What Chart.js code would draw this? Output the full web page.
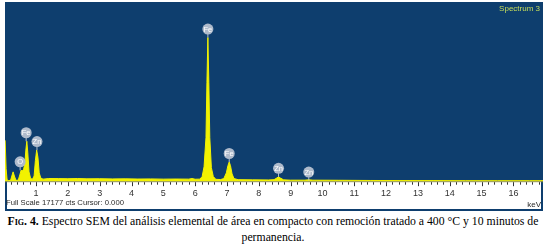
<!DOCTYPE html>
<html>
<head>
<meta charset="utf-8">
<script src="https://cdn.jsdelivr.net/npm/chart.js@4"></script>
<style>
  html, body { margin: 0; padding: 0; background: #fff; }
  body { width: 546px; height: 246px; position: relative; overflow: hidden; }
  #wrap { position: absolute; left: 0; top: 0; width: 546px; height: 213px; }
  #cap { position: absolute; left: 0; top: 214px; width: 546px; text-align: center;
         font-family: "Liberation Serif", "Times New Roman", serif; font-size: 11.75px; line-height: 15.5px; color: #000; white-space: nowrap; }
  #cap .fig { font-weight: bold; font-variant: small-caps; }
</style>
</head>
<body>
<div id="wrap"><canvas id="c" width="546" height="213"></canvas></div>
<div id="cap"><span class="fig">Fig. 4.</span> Espectro SEM del análisis elemental de área en compacto con remoción tratado a 400 °C y 10 minutos de<br>permanencia.</div>
<script>
// ---- data ----
const energies = [0.00, 0.03, 0.06, 0.09, 0.13, 0.20, 0.24, 0.28, 0.32, 0.37, 0.44, 0.49, 0.53, 0.57, 0.61, 0.65, 0.68, 0.71, 0.74, 0.78,
  0.83, 0.89, 0.94, 0.98, 1.02, 1.06, 1.10, 1.15, 1.22, 1.40, 1.70, 2.00, 2.30, 2.60, 3.00, 3.40, 3.80, 4.20, 4.60, 5.00,
  5.40, 5.80, 5.90, 6.00, 6.15, 6.22, 6.28, 6.34, 6.37, 6.40, 6.43, 6.46, 6.51, 6.57, 6.65, 6.80, 6.90, 6.98, 7.03, 7.07,
  7.11, 7.16, 7.22, 7.35, 7.80, 8.30, 8.48, 8.56, 8.62, 8.68, 8.78, 9.00, 9.45, 9.57, 9.70, 10.5, 11.5, 12.5, 13.5, 14.5,
  15.5, 16.5, 16.95];
const counts = [4000, 3900, 1200, 150, 60, 80, 500, 900, 500, 80, 100, 600, 1050, 1000, 1150, 1700, 3000, 3850, 2800, 900,
  250, 200, 500, 2000, 3000, 2300, 800, 300, 200, 260, 250, 240, 260, 230, 240, 220, 230, 210, 220, 200,
  210, 200, 260, 190, 200, 450, 1400, 4200, 9500, 13850, 9500, 4200, 1300, 450, 180, 160, 250, 800, 1500, 1850,
  1500, 700, 250, 150, 130, 120, 150, 300, 420, 300, 130, 100, 100, 140, 100, 90, 70, 60, 60, 50,
  50, 50, 50];
const peakNames = ['O', 'Fe', 'Zn', 'Fe', 'Fe', 'Zn', 'Zn'];
const peakEnergies = [0.50, 0.69, 1.03, 6.40, 7.07, 8.62, 9.57];
const peakCounts = [1050, 3850, 3000, 13850, 1850, 420, 60];
const tickLabels = ['1','2','3','4','5','6','7','8','9','10','11','12','13','14','15','16'];
const fullScale = 17177;
const infoText = 'Full Scale 17177 cts Cursor: 0.000';
const spectrumName = 'Spectrum 3';
const unitText = 'keV';

const BLUE = '#0e3e6e';
const YELLOW = '#f2f200';

const framePlugin = {
  id: 'frame',
  beforeDraw(chart) {
    const { ctx, chartArea: a } = chart;
    ctx.save();
    ctx.fillStyle = '#fff';
    ctx.fillRect(0, 0, chart.width, chart.height);
    ctx.fillStyle = BLUE;
    ctx.fillRect(a.left, a.top, a.right - a.left, a.bottom - a.top);
    ctx.strokeStyle = BLUE;
    ctx.lineWidth = 2;
    ctx.strokeRect(a.left + 1, a.top, a.right - a.left - 2, 209 - a.top + 1);
    ctx.restore();
  },
  afterDatasetsDraw(chart) {
    const { ctx, chartArea: a, scales: { x, y } } = chart;
    ctx.save();
    ctx.strokeStyle = '#9a9a40';
    ctx.lineWidth = 1;
    ctx.beginPath(); ctx.moveTo(a.left, a.bottom + 0.5); ctx.lineTo(a.right, a.bottom + 0.5); ctx.stroke();
    ctx.strokeStyle = '#333';
    for (let i = 1; i <= 84; i++) {
      const v = i / 5;
      const px = Math.round(x.getPixelForValue(v)) + 0.5;
      if (px > a.right - 1) break;
      const len = (i % 5 === 0) ? 4 : 2.5;
      ctx.beginPath(); ctx.moveTo(px, a.bottom + 1); ctx.lineTo(px, a.bottom + 1 + len); ctx.stroke();
    }
    ctx.font = '7.5px Arial, "Liberation Sans", sans-serif';
    ctx.textAlign = 'center';
    ctx.textBaseline = 'middle';
    for (let i = 0; i < peakNames.length; i++) {
      const px = x.getPixelForValue(peakEnergies[i]);
      const py = y.getPixelForValue(peakCounts[i]);
      const cy = py - 8.5;
      ctx.strokeStyle = '#b8c2ce';
      ctx.lineWidth = 1;
      ctx.beginPath(); ctx.moveTo(px, cy + 4); ctx.lineTo(px, py); ctx.stroke();
      ctx.fillStyle = '#aebacb';
      ctx.beginPath(); ctx.arc(px, cy, 5.5, 0, Math.PI * 2); ctx.fill();
      ctx.fillStyle = '#ffffff';
      ctx.fillText(peakNames[i], px, cy + 0.5);
    }
    ctx.fillStyle = '#c8df5a';
    ctx.font = '8px Arial, "Liberation Sans", sans-serif';
    ctx.textAlign = 'right';
    ctx.fillText(spectrumName, a.right - 3, a.top + 6);
    ctx.fillStyle = '#2a2a2a';
    ctx.font = '7.7px Arial, "Liberation Sans", sans-serif';
    ctx.textAlign = 'left';
    ctx.fillText(infoText, a.left + 1, 203);
    ctx.font = '8px Arial, "Liberation Sans", sans-serif';
    ctx.textAlign = 'right';
    ctx.fillText(unitText, a.right - 2, 205);
    ctx.restore();
  }
};

new Chart(document.getElementById('c'), {
  type: 'line',
  data: {
    labels: energies,
    datasets: [{
      data: energies.map((e, i) => ({ x: e, y: counts[i] })),
      borderColor: YELLOW,
      backgroundColor: YELLOW,
      borderWidth: 1,
      fill: 'origin',
      pointRadius: 0,
      tension: 0
    }]
  },
  options: {
    responsive: false,
    animation: false,
    devicePixelRatio: 1,
    layout: { padding: { left: 5, right: 3, top: 3, bottom: 7 } },
    plugins: { legend: { display: false }, tooltip: { enabled: false } },
    scales: {
      x: {
        type: 'linear', min: 0.025, max: 16.93,
        grid: { display: false, drawTicks: false },
        border: { display: false },
        ticks: {
          stepSize: 1, includeBounds: false, autoSkip: false, maxRotation: 0, padding: 7,
          color: '#333', font: { size: 9, family: 'Arial, "Liberation Sans", sans-serif' },
          callback: (v) => (v >= 1 && v <= 16 && Number.isInteger(v)) ? tickLabels[v - 1] : ''
        }
      },
      y: { display: false, min: 0, max: fullScale }
    }
  },
  plugins: [framePlugin]
});
</script>
</body>
</html>
